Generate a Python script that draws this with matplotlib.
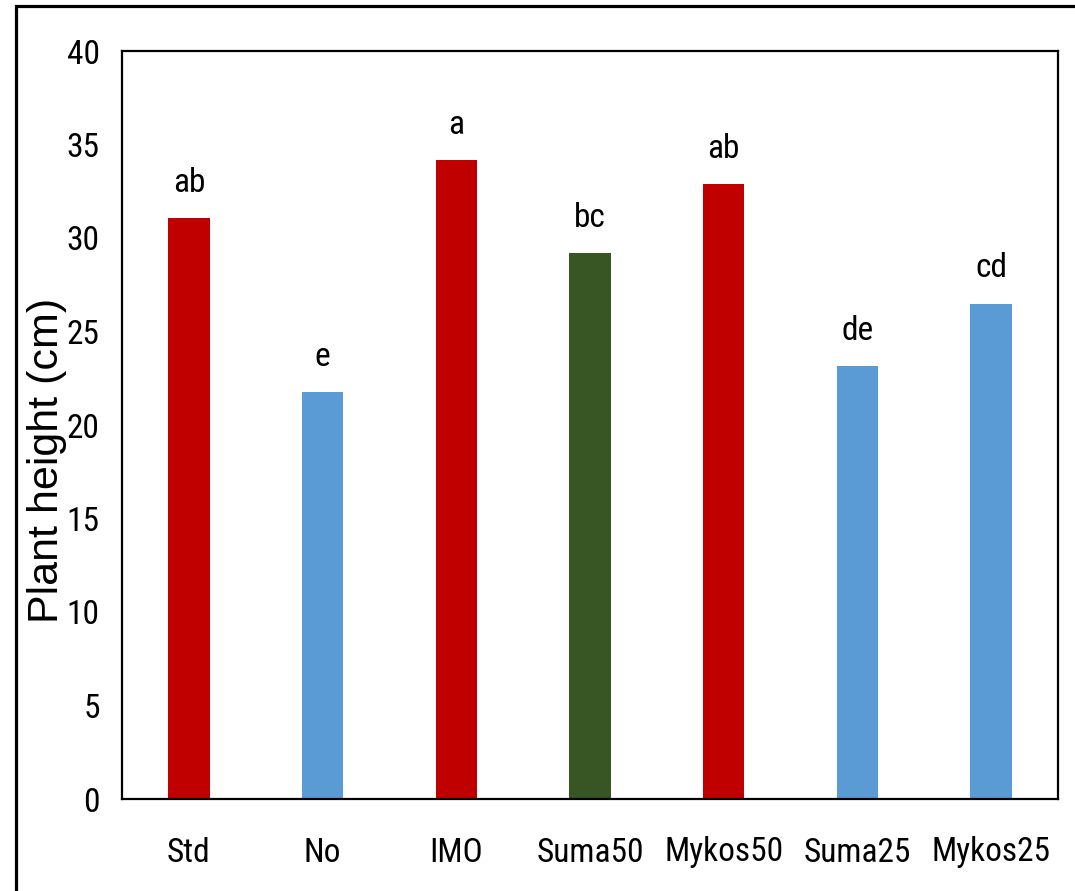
import matplotlib
matplotlib.use("Agg")
import matplotlib.pyplot as plt
import matplotlib.patches as mpatches
from matplotlib import font_manager
from matplotlib.font_manager import FontProperties

# treatments, heights (cm) and significance letters
treatments = ["Std", "No", "IMO", "Suma50", "Mykos50", "Suma25", "Mykos25"]
heights    = [31.05, 21.75, 34.17, 29.2, 32.87, 23.14, 26.49]
letters    = ["ab", "e", "a", "bc", "ab", "de", "cd"]
groups     = ["red", "blue", "red", "green", "red", "blue", "blue"]

COLORS = {"red": "#C00000", "blue": "#5B9BD5", "green": "#375623"}


def narrow_font():
    """Pick a condensed sans face if one is installed."""
    prefs = ["Liberation Sans Narrow", "Roboto Condensed", "Open Sans Condensed",
             "DejaVu Sans Condensed", "Noto Sans Condensed"]
    for f in font_manager.fontManager.ttflist:
        if f.name in prefs and f.weight in (400, "normal", "regular") and f.style == "normal":
            return f.fname
    for f in font_manager.fontManager.ttflist:
        if (f.stretch in ("condensed", "semi-condensed", 400, 300)
                and f.style == "normal" and f.weight in (400, "normal", "regular")):
            return f.fname
    return None


fname = narrow_font()
if fname:
    tick_fp = FontProperties(fname=fname, size=24)
else:
    tick_fp = FontProperties(family="Liberation Sans", size=21)

W, H = 1075, 891
fig = plt.figure(figsize=(W / 100, H / 100), dpi=100)
ax = fig.add_axes([122 / W, 1 - 799 / H, 936 / W, 748 / H])

# outer frame running off the right and bottom edges
frame = mpatches.Rectangle((15.5 / W, -0.1), 1.2, 1.1 - 6.5 / H,
                           transform=fig.transFigure, fill=False,
                           edgecolor="black", linewidth=2.3, clip_on=False)
fig.patches.append(frame)

x = range(len(treatments))
ax.bar(x, heights, width=0.31, color=[COLORS[g] for g in groups])

for xi, h, lab in zip(x, heights, letters):
    ax.annotate(lab, (xi, h), xytext=(0, 14), textcoords="offset points",
                ha="center", va="bottom", fontproperties=tick_fp)

ax.set_xlim(-0.5, 6.5)
ax.set_ylim(0, 40)
ax.set_yticks(range(0, 41, 5))
ax.set_xticks(list(x))
ax.set_xticklabels(treatments)
ax.tick_params(axis="both", length=0)
ax.tick_params(axis="x", pad=27)
ax.tick_params(axis="y", pad=16)
for lbl in ax.get_xticklabels() + ax.get_yticklabels():
    lbl.set_fontproperties(tick_fp)

for sp in ax.spines.values():
    sp.set_linewidth(1.6)

ax.set_ylabel("Plant height (cm)", fontsize=31, family="Liberation Sans",
              va="center")
ax.yaxis.set_label_coords(-75 / 936, 0.453)

fig.savefig("out.png", dpi=100)
